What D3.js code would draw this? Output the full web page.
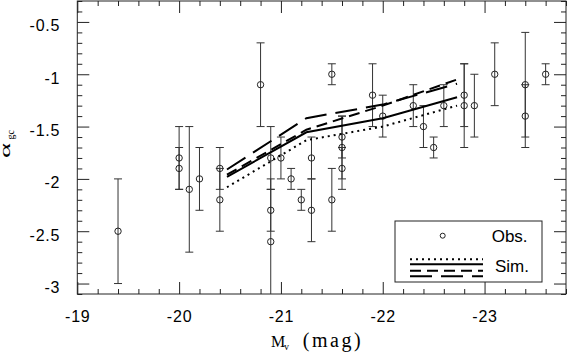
<!DOCTYPE html>
<html>
<head>
<meta charset="utf-8">
<script src="https://cdn.jsdelivr.net/npm/d3@7"></script>
<style>
body { margin: 0; background: white; }
</style>
</head>
<body>
<script>
// observed GC slopes vs host magnitude
var obsMag   = [-19.4, -20.0, -20.0, -20.1, -20.2, -20.4, -20.4, -20.8, -20.9, -20.9, -20.9, -21.0, -21.1, -21.2, -21.3, -21.3, -21.5,
                -21.5, -21.6, -21.6, -21.6, -21.9, -22.0, -22.3, -22.4, -22.5, -22.6, -22.8, -22.8, -22.9, -23.1, -23.4, -23.4, -23.6];
var obsAlpha = [-2.5, -1.8, -1.9, -2.1, -2.0, -1.9, -2.2, -1.1, -1.8, -2.3, -2.6, -1.8, -2.0, -2.2, -1.8, -2.3, -1.0,
                -2.2, -1.6, -1.7, -1.9, -1.2, -1.4, -1.3, -1.5, -1.7, -1.3, -1.2, -1.3, -1.3, -1.0, -1.1, -1.4, -1.0];
var obsErr   = [0.5, 0.3, 0.2, 0.6, 0.3, 0.2, 0.3, 0.4, 0.3, 0.2, 0.6, 0.2, 0.1, 0.1, 0.2, 0.3, 0.1,
                0.3, 0.2, 0.3, 0.2, 0.3, 0.2, 0.2, 0.2, 0.1, 0.2, 0.3, 0.4, 0.3, 0.3, 0.5, 0.3, 0.1];

// simulated relations
var simMag    = [-20.47, -21.25, -22.0, -22.73];
var simDotted = [-2.08, -1.63, -1.50, -1.30];
var simSolid  = [-1.98, -1.555, -1.42, -1.22];
var simShort  = [-1.96, -1.53, -1.30, -1.05];
var simLong   = [-1.91, -1.42, -1.29, -1.09];

var xMajorTicks = [-19, -20, -21, -22, -23];
var yMajorTicks = [-3, -2.5, -2, -1.5, -1, -0.5];
var legendLabels = ["Obs.", "Sim."];

var svg = d3.select("body").append("svg").attr("width", 568).attr("height", 352);

var pLeft = 77.3, pRight = 566, pTop = 1, pBottom = 294;
var x = d3.scaleLinear().domain([-19, -23.8]).range([pLeft, pRight]);
var y = d3.scaleLinear().domain([-3.1, -0.3]).range([pBottom, pTop]);

var ink = "#222";
var sans = "'Liberation Sans', Arial, sans-serif";
var serif = "'Liberation Serif', 'Times New Roman', serif";

svg.append("clipPath").attr("id", "plotclip")
    .append("rect").attr("x", pLeft).attr("y", pTop).attr("width", pRight - pLeft).attr("height", pBottom - pTop);

var xMinor = d3.range(-19, -23.81, -0.2).filter(function (d) { return Math.abs(d - Math.round(d)) > 0.01; });
var yMinor = d3.range(-3.1, -0.29, 0.1).filter(function (d) { return Math.abs(d * 2 - Math.round(d * 2)) > 0.01; });

function styleAxis(g) {
    g.select(".domain").remove();
    g.selectAll("line").attr("stroke", ink);
    g.selectAll("text").attr("fill", "#000").style("font-family", sans)
        .style("font-size", "16px").style("letter-spacing", "0.8px");
}

// bottom
svg.append("g").attr("transform", "translate(0," + pBottom + ")")
    .call(d3.axisBottom(x).tickValues(xMajorTicks).tickSize(-12).tickPadding(17).tickFormat(function (d) { return String(d); }))
    .call(styleAxis);
svg.append("g").attr("transform", "translate(0," + pBottom + ")")
    .call(d3.axisBottom(x).tickValues(xMinor).tickSize(-5).tickFormat(""))
    .call(styleAxis);
// top
svg.append("g").attr("transform", "translate(0," + pTop + ")")
    .call(d3.axisTop(x).tickValues(xMajorTicks).tickSize(-12).tickFormat(""))
    .call(styleAxis);
svg.append("g").attr("transform", "translate(0," + pTop + ")")
    .call(d3.axisTop(x).tickValues(xMinor).tickSize(-5).tickFormat(""))
    .call(styleAxis);
// left
svg.append("g").attr("transform", "translate(" + pLeft + ",0)")
    .call(d3.axisLeft(y).tickValues(yMajorTicks).tickSize(-12).tickPadding(17).tickFormat(function (d) { return String(d); }))
    .call(styleAxis)
    .selectAll("text").attr("dy", "9px");
svg.append("g").attr("transform", "translate(" + pLeft + ",0)")
    .call(d3.axisLeft(y).tickValues(yMinor).tickSize(-5).tickFormat(""))
    .call(styleAxis);
// right
svg.append("g").attr("transform", "translate(" + pRight + ",0)")
    .call(d3.axisRight(y).tickValues(yMajorTicks).tickSize(-12).tickFormat(""))
    .call(styleAxis);
svg.append("g").attr("transform", "translate(" + pRight + ",0)")
    .call(d3.axisRight(y).tickValues(yMinor).tickSize(-5).tickFormat(""))
    .call(styleAxis);

// frame
svg.append("rect").attr("x", pLeft).attr("y", pTop).attr("width", pRight - pLeft).attr("height", pBottom - pTop)
    .attr("fill", "none").attr("stroke", ink).attr("stroke-width", 1);

var plot = svg.append("g").attr("clip-path", "url(#plotclip)");

// error bars
var idx = d3.range(obsMag.length);
plot.selectAll(".ebar").data(idx).enter().append("line")
    .attr("x1", function (i) { return x(obsMag[i]); })
    .attr("x2", function (i) { return x(obsMag[i]); })
    .attr("y1", function (i) { return y(obsAlpha[i] + obsErr[i]); })
    .attr("y2", function (i) { return y(obsAlpha[i] - obsErr[i]); })
    .attr("stroke", "#333").attr("stroke-width", 1);
[1, -1].forEach(function (s) {
    plot.selectAll(".cap" + s).data(idx).enter().append("line")
        .attr("x1", function (i) { return x(obsMag[i]) - 4; })
        .attr("x2", function (i) { return x(obsMag[i]) + 4; })
        .attr("y1", function (i) { return y(obsAlpha[i] + s * obsErr[i]); })
        .attr("y2", function (i) { return y(obsAlpha[i] + s * obsErr[i]); })
        .attr("stroke", "#333").attr("stroke-width", 1);
});
plot.selectAll(".obs").data(idx).enter().append("circle")
    .attr("cx", function (i) { return x(obsMag[i]); })
    .attr("cy", function (i) { return y(obsAlpha[i]); })
    .attr("r", 3.2)
    .attr("fill", "none").attr("stroke", "#222").attr("stroke-width", 1);

// simulation lines
var sims = [
    { vals: simDotted, dash: "2,4" },
    { vals: simSolid, dash: null },
    { vals: simShort, dash: "11,6" },
    { vals: simLong, dash: "22,9" }
];
var line = d3.line().x(function (d) { return x(d[0]); }).y(function (d) { return y(d[1]); });
sims.forEach(function (s) {
    plot.append("path")
        .attr("d", line(simMag.map(function (m, i) { return [m, s.vals[i]]; })))
        .attr("fill", "none").attr("stroke", "#000").attr("stroke-width", 2)
        .attr("stroke-dasharray", s.dash);
});

// legend
var leg = svg.append("g");
leg.append("rect").attr("x", 395).attr("y", 221).attr("width", 147).attr("height", 61)
    .attr("fill", "white").attr("stroke", ink).attr("stroke-width", 1);
leg.append("circle").attr("cx", 442.7).attr("cy", 235.7).attr("r", 2.5)
    .attr("fill", "none").attr("stroke", "#222").attr("stroke-width", 1);
var legY = [259.3, 264.3, 270.7, 276.3];
sims.forEach(function (s, i) {
    leg.append("line").attr("x1", 410).attr("x2", 483).attr("y1", legY[i]).attr("y2", legY[i])
        .attr("stroke", "#000").attr("stroke-width", 2).attr("stroke-dasharray", s.dash);
});
leg.selectAll("text").data(legendLabels).enter().append("text")
    .attr("x", function (d, i) { return i == 0 ? 491.7 : 495; })
    .attr("y", function (d, i) { return i == 0 ? 241.7 : 271.7; })
    .style("font-family", sans).style("font-size", "17px")
    .text(function (d) { return d; });

// axis titles
var xt = svg.append("text").attr("y", 346.7).style("font-family", serif).style("font-size", "16px");
xt.append("tspan").attr("x", 271).text("M");
xt.append("tspan").attr("x", 284).attr("dy", 3).style("font-size", "10px").text("v");
xt.append("tspan").attr("x", 302.7).attr("dy", -3).style("font-size", "20px")
    .attr("textLength", 58).attr("lengthAdjust", "spacing").text("(mag)");

var yt = svg.append("text").attr("transform", "translate(9.5,158) rotate(-90)")
    .style("font-family", serif).style("font-size", "15px");
yt.append("tspan").attr("textLength", 15).attr("lengthAdjust", "spacingAndGlyphs").text("\u03b1");
yt.append("tspan").attr("x", 18.5).attr("dy", 4).style("font-size", "10px").text("gc");
</script>
</body>
</html>
